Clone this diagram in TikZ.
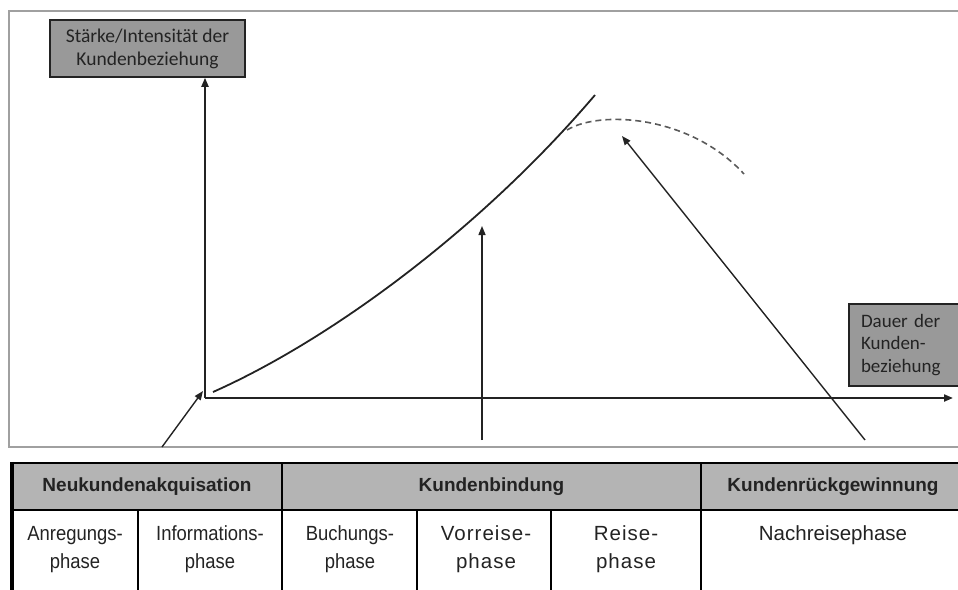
\documentclass[tikz,border=0pt]{standalone}
\usepackage{fontspec}
\setmainfont{Liberation Sans}
\newfontfamily\calfont{Carlito}
\newfontfamily\narrowfont[FakeStretch=0.9]{Liberation Sans}
\newfontfamily\widefont[LetterSpace=5]{Liberation Sans}
\usetikzlibrary{arrows.meta}
\definecolor{boxgray}{RGB}{153,153,153}
\definecolor{hdrgray}{RGB}{180,180,180}
\definecolor{framegray}{RGB}{160,160,160}
\definecolor{ink}{RGB}{35,35,35}
\begin{document}
\begin{tikzpicture}[x=1pt,y=-1pt,
  axisline/.style={line width=2pt,draw=ink,-{Triangle[length=9pt,width=7pt]}},
  arrowline/.style={line width=1.4pt,draw=ink,-{Triangle[length=9pt,width=7pt]}},
  curveline/.style={line width=1.8pt,draw=ink},
  dashline/.style={line width=1.6pt,draw=ink!75,dashed,dash pattern=on 6pt off 4pt},
  lblbox/.style={fill=boxgray,draw=ink,line width=1.5pt,inner sep=0pt,
     font=\calfont\fontsize{19.5}{23}\selectfont,text=ink},
  hdrcell/.style={fill=hdrgray,inner sep=0pt,minimum height=47pt,
     font=\bfseries\fontsize{19}{23}\selectfont,text=ink},
  bodycell/.style={inner sep=0pt,align=center,font=\fontsize{20.5}{28}\selectfont,text=ink,anchor=base},
  tblline/.style={line width=1.5pt,draw=black},
  tblthick/.style={line width=2.4pt,draw=black}]
\useasboundingbox (0,0) rectangle (958,589);
% outer frame
\draw[framegray,line width=2pt] (970,11) -- (9,11) -- (9,447) -- (970,447);
% label boxes
\node[lblbox,minimum width=195pt,minimum height=57pt,align=center] (ylab) at (147.5,48.5)
  {Stärke/Intensität der\\Kundenbeziehung};
\node[lblbox,minimum width=110pt,minimum height=82pt,text width=86pt,align=left,
  font=\calfont\fontsize{19}{22.5}\selectfont] (xlab) at (904,345)
  {Dauer der\\Kunden-\\beziehung};
% axes
\coordinate (O) at (205,398);
\coordinate (xend) at (953,398);
\draw[axisline] (O) -- (O |- ylab.south);
\draw[axisline] (O) -- (xend);
% main curve
\coordinate (cs) at (213,392);
\coordinate (ce) at (595,95);
\draw[curveline] (cs) .. controls (330,340) and (480,230) .. (ce);
% dashed continuation
\coordinate (ds) at (567,130);
\coordinate (de) at (744,174);
\draw[dashline] (ds) .. controls (600,110) and (690,115) .. (de);
% pointer arrows
\coordinate (a1s) at (162,447);
\coordinate (a1e) at (203,391);
\draw[arrowline] (a1s) -- (a1e);
\coordinate (a2s) at (482,440);
\coordinate (a2e) at (482,226);
\draw[arrowline] (a2s) -- (a2e);
\coordinate (a3s) at (865,440);
\coordinate (a3e) at (622,136);
\draw[arrowline] (a3s) -- (a3e);
% table header
\node[hdrcell,minimum width=270pt] (h1) at (147,486.5) {Neukundenakquisation};
\node[hdrcell,minimum width=419pt] (h2) at (491.5,486.5) {Kundenbindung};
\node[hdrcell,minimum width=264pt] (h3) at (833,486.5) {Kundenrückgewinnung};
% table lines
\draw[tblthick] (12,463) -- (970,463);
\draw[tblthick] (12,510) -- (970,510);
\draw[line width=3.5pt,draw=black] (12,461.8) -- (12,595);
\draw[tblline] (282,463) -- (282,595);
\draw[tblline] (701,463) -- (701,595);
\draw[tblline] (138,510) -- (138,595);
\draw[tblline] (417,510) -- (417,595);
\draw[tblline] (551,510) -- (551,595);
% body cells (base = baseline of last line)
\node[bodycell,font=\narrowfont\fontsize{20.5}{28}\selectfont] (c1) at (75,568) {Anregungs-\\phase};
\node[bodycell,font=\narrowfont\fontsize{20.5}{28}\selectfont] (c2) at (210,568) {Informations-\\phase};
\node[bodycell,font=\narrowfont\fontsize{20.5}{28}\selectfont] (c3) at (350,568) {Buchungs-\\phase};
\node[bodycell,font=\widefont\fontsize{20.5}{28}\selectfont] (c4) at (486,568) {Vorreise-\\phase};
\node[bodycell,font=\widefont\fontsize{20.5}{28}\selectfont] (c5) at (626,568) {Reise-\\phase};
\node[bodycell] (c6) at (833,540) {Nachreisephase};
\end{tikzpicture}
\end{document}
